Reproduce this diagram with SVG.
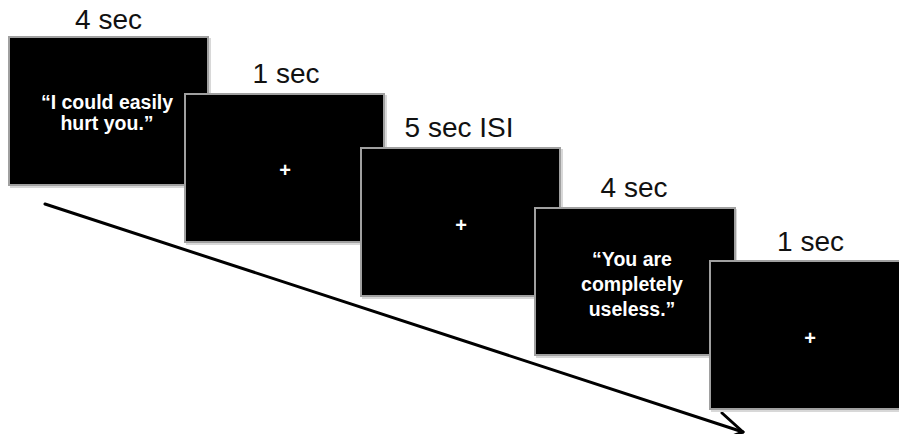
<svg xmlns="http://www.w3.org/2000/svg" width="899" height="434" viewBox="0 0 899 434">
<style>
.card{fill:#000;stroke:#a0a0a0;stroke-width:2}
.shadow{fill:#d8d8d8}
.lbl{font-family:"Liberation Sans",Arial,sans-serif;font-size:28px;fill:#111;text-anchor:middle}
.msg{font-family:"Liberation Sans",Arial,sans-serif;font-size:19.5px;font-weight:bold;fill:#fff;text-anchor:middle}
.fix{font-family:"Liberation Sans",Arial,sans-serif;font-size:20px;font-weight:bold;fill:#fff;text-anchor:middle}
.conn{fill:none;stroke:#000;stroke-width:3;stroke-linecap:round;stroke-linejoin:round}
</style>
<rect width="899" height="434" fill="#fff"/>
<g id="connectors">
<path class="conn" d="M45,204 L743,432"/>
<path class="conn" d="M722,413 L743,432 L719,441"/>
</g>
<g id="screen1">
<rect class="shadow" x="10" y="38" width="201" height="150"/>
<rect class="card" x="9" y="37" width="199" height="148"/>
<text class="lbl" x="108.5" y="29">4 sec</text>
<text class="msg" x="107" y="109">“I could easily</text>
<text class="msg" x="107" y="130">hurt you.”</text>
</g>
<g id="screen2">
<rect class="shadow" x="186" y="95" width="201" height="150"/>
<rect class="card" x="185" y="94" width="199" height="148"/>
<text class="lbl" x="286" y="83">1 sec</text>
<text class="fix" x="285" y="177">+</text>
</g>
<g id="screen3">
<rect class="shadow" x="362" y="149" width="201" height="150"/>
<rect class="card" x="361" y="148" width="199" height="148"/>
<text class="lbl" x="459" y="137">5 sec ISI</text>
<text class="fix" x="461" y="232">+</text>
</g>
<g id="screen4">
<rect class="shadow" x="536" y="209" width="201" height="149"/>
<rect class="card" x="535" y="208" width="200" height="147"/>
<text class="lbl" x="634" y="197">4 sec</text>
<text class="msg" x="632" y="266">“You are</text>
<text class="msg" x="632" y="291">completely</text>
<text class="msg" x="632" y="316">useless.”</text>
</g>
<g id="screen5">
<rect class="shadow" x="711" y="262" width="201" height="150"/>
<rect class="card" x="710" y="261" width="200" height="148"/>
<text class="lbl" x="810.5" y="251">1 sec</text>
<text class="fix" x="810" y="345">+</text>
</g>
</svg>
